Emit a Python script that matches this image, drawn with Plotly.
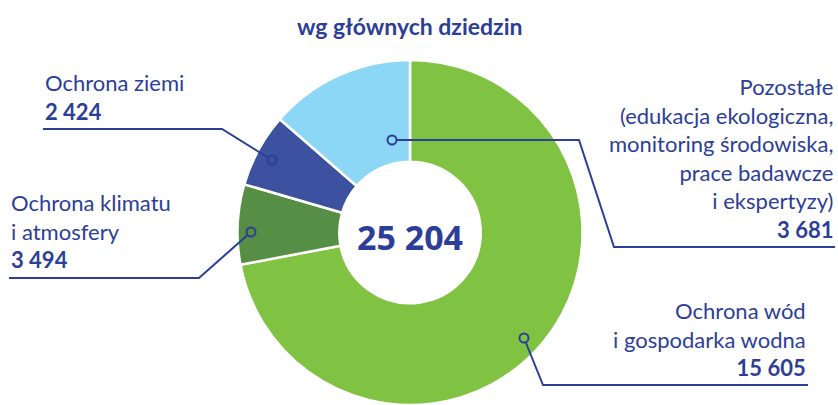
import plotly.graph_objects as go

# data
labels = [
    "Ochrona wód<br>i gospodarka wodna",
    "Ochrona klimatu<br>i atmosfery",
    "Ochrona ziemi",
    "Pozostałe<br>(edukacja ekologiczna,<br>monitoring środowiska,<br>prace badawcze<br>i ekspertyzy)",
]
values = [15605, 3494, 2424, 3681]
# ring shares (%) as drawn in the original graphic - they do not follow the printed values
slice_shares = [72.0, 7.5, 6.9, 13.6]
colors = ["#80c242", "#558e44", "#3d51a1", "#8dd7f6"]
title_text = "wg głównych dziedzin"

W, H = 838, 405
TXT = "#2c3e97"
FONT = "Lato"


def fmt(v):
    return f"{v:,}".replace(",", " ")


def px(x):
    return x / W


def py(y):
    return 1 - y / H


fig = go.Figure(go.Pie(
    labels=labels,
    values=slice_shares,
    customdata=values,
    marker=dict(colors=colors, line=dict(color="white", width=2.5)),
    hole=0.41,
    sort=False,
    direction="clockwise",
    rotation=0,
    textinfo="none",
    hovertemplate="%{label}<br>%{customdata}<extra></extra>",
    domain=dict(x=[237 / W, 583 / W], y=[0, 0.852]),
    showlegend=False,
))

# label blocks: (x, top y, anchor)
label_pos = [
    (808, 295, "right"),
    (9, 187, "left"),
    (43, 67, "left"),
    (835, 71, "right"),
]
for lab, val, (x, y, anc) in zip(labels, values, label_pos):
    fig.add_annotation(
        x=px(x), y=py(y), xref="paper", yref="paper",
        xanchor=anc, yanchor="top", align=anc,
        text=f"{lab}<br><b>{fmt(val)}</b>",
        showarrow=False,
        font=dict(family=FONT, size=22, color=TXT),
    )

# total in the hole
fig.add_annotation(
    x=px(410), y=py(237), xref="paper", yref="paper",
    xanchor="center", yanchor="middle",
    text=f"<b>{fmt(sum(values))}</b>", showarrow=False,
    font=dict(family="Open Sans", size=34, color=TXT),
)

fig.add_annotation(
    x=px(409), y=py(26), xref="paper", yref="paper",
    xanchor="center", yanchor="middle",
    text=f"<b>{title_text}</b>", showarrow=False,
    font=dict(family=FONT, size=23, color=TXT),
)

# leader lines (pixel positions taken from the layout)
leaders = [
    [(524, 338), (543, 385), (808, 385)],
    [(251, 232), (199, 278), (9, 278)],
    [(272, 160), (222, 129), (43, 129)],
    [(392, 140), (579, 140), (614, 247), (835, 247)],
]
for pts, col in zip(leaders, colors):
    path = "M " + " L ".join(f"{px(x)},{py(y)}" for x, y in pts)
    fig.add_shape(type="path", path=path, xref="paper", yref="paper",
                  line=dict(color=TXT, width=2))
    cx, cy = pts[0]
    fig.add_shape(type="circle", xref="paper", yref="paper",
                  x0=px(cx - 4.5), x1=px(cx + 4.5), y0=py(cy + 4.5), y1=py(cy - 4.5),
                  line=dict(color=TXT, width=2), fillcolor=col)

fig.update_layout(
    width=W, height=H,
    margin=dict(l=0, r=0, t=0, b=0),
    paper_bgcolor="white",
    plot_bgcolor="white",
)

fig.write_html(
    "out.html",
    config={"displayModeBar": False},
    post_script="document.body.style.margin='0';document.body.style.overflow='hidden';",
)
